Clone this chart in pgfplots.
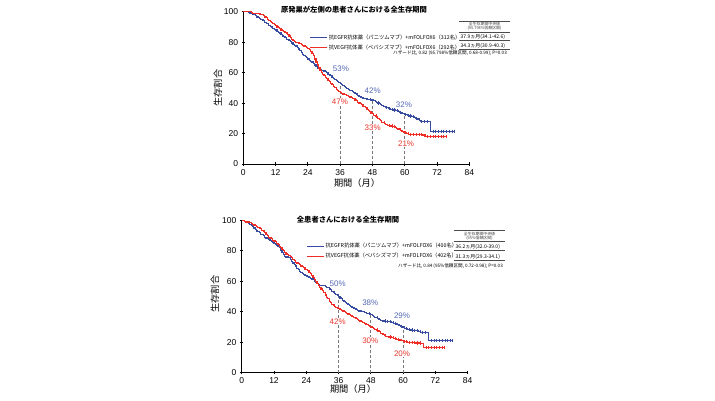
\documentclass[border=0pt]{standalone}
\usepackage{fontspec}
\setmainfont{Liberation Sans}
\newfontfamily\jp{Noto Sans CJK JP}
\usepackage{pgfplots}
\pgfplotsset{compat=1.18}
\definecolor{egfr}{RGB}{55,75,160}
\definecolor{vegf}{RGB}{238,45,38}
\definecolor{egfrlab}{RGB}{85,105,185}
\definecolor{vegflab}{RGB}{230,55,45}
\definecolor{dashgray}{RGB}{120,120,120}

\pgfplotsset{kmaxis/.style={
  scale only axis, width=226pt, height=152.3pt,
  xmin=0, xmax=84, ymin=0, ymax=100,
  axis lines*=left, axis line style={-, line width=0.9pt},
  xtick={0,12,...,84}, ytick={0,20,...,100},
  tick align=center, major tick length=3.5pt, tick style={black, line width=0.8pt},
  ticklabel style={font=\fontsize{8.5}{10}\selectfont},
  /pgf/number format/assume math mode=true,
  clip=false,
  legend cell align=left,
  legend style={draw=none, fill=none, inner sep=0pt, font=\jp\fontsize{5.3}{6}\selectfont,
    row sep=2pt, anchor=north west, nodes={inner sep=1pt}},
  legend image code/.code={\draw[#1, line width=1.2pt] (0pt,0pt) -- (17pt,0pt);},
},
km/.style={const plot, line width=1.2pt, mark=none},
cens/.style={only marks, mark=|, mark size=1.6pt, mark options={line width=0.6pt}, forget plot},
dsh/.style={dashgray, line width=0.7pt, dash pattern=on 3pt off 2pt, forget plot},
}
\tikzset{pct/.style={font=\fontsize{8}{9}\selectfont, fill=white, inner sep=0.6pt}}

\begin{document}
\begin{tikzpicture}
% ---------------- top panel ----------------
\begin{axis}[kmaxis, at={(243.3pt,236pt)}, anchor=south west,
  legend style={at={(axis cs:24.6,85.6)}}]
\addplot[dsh] coordinates {(36,0) (36,53)};
\addplot[dsh] coordinates {(48,0) (48,42)};
\addplot[dsh] coordinates {(60,0) (60,32.5)};
\node[pct, text=egfrlab] at (axis cs:36.3,62.8) {53\%};
\node[pct, text=egfrlab] at (axis cs:48.1,48.1) {42\%};
\node[pct, text=egfrlab] at (axis cs:59.7,38.7) {32\%};
\node[pct, text=vegflab] at (axis cs:35.9,40.9) {47\%};
\node[pct, text=vegflab] at (axis cs:48.1,23.8) {33\%};
\node[pct, text=vegflab] at (axis cs:60.5,13.6) {21\%};
\addplot[km, egfr] coordinates {
(0,100) (0.5,100) (1,100) (1.5,100) (2,99.5) (2.5,99) (3,99) (3.5,98.5) (4,98) (4.5,97.5)
(5,96.5) (5.5,96) (6,95.5) (6.5,95) (7,94.5) (7.5,94) (8,93) (8.5,92.5) (9,92) (9.5,91)
(10,90.5) (10.5,90) (11,89) (11.5,88.5) (12,88) (12.5,87) (13,86.5) (13.5,86) (14,85) (14.5,84)
(15,83.5) (15.5,83) (16,82) (16.5,81.5) (17,81) (17.5,80.5) (18,79.5) (18.5,78.5) (19,78) (19.5,77.5)
(20,76.5) (20.5,75.5) (21,74.5) (21.5,73) (22,72) (22.5,71) (23,70.5) (23.5,70) (24,69) (24.5,68)
(25,67.5) (25.5,67) (26,66) (26.5,65) (27,64) (27.5,63) (28,62.5) (28.5,62) (29,61.5) (29.5,61.5)
(30,61) (30.5,60.5) (31,60) (31.5,59) (32,58.5) (32.5,58) (33,57) (33.5,56) (34,55.5) (34.5,55)
(35,54) (35.5,53.5) (36,53) (36.5,52) (37,51.5) (37.5,51) (38,50) (38.5,49.5) (39,49) (39.5,48.5)
(40,48) (40.5,47.5) (41,47) (41.5,46.5) (42,46) (42.5,45) (43,44.5) (43.5,44) (44,43.5) (44.5,43)
(45,43) (45.5,43) (46,42.5) (46.5,42.5) (47,42.5) (47.5,42) (48,42) (48.5,41.5) (49,41) (49.5,40.5)
(50,40) (50.5,39.5) (51,39) (51.5,38.5) (52,38) (52.5,37.5) (53,37) (53.5,37) (54,36.5) (54.5,36)
(55,36) (55.5,36) (56,35.5) (56.5,35) (57,35) (57.5,34.5) (58,34) (58.5,33.5) (59,33) (59.5,33)
(60,32.5) (60.5,32.5) (61,32) (61.5,31.5) (62,31.5) (62.5,31) (63,31) (63.5,30.5) (64,30) (64.5,29.5)
(65,29) (65.5,28.5) (66,28) (66.5,28) (67,28) (67.5,28) (68,28) (68.5,28) (69,28) (69.5,21.5) (78.7,21.5)};
\addlegendentry{抗EGFR抗体薬（パニツムマブ）+mFOLFOX6（312名）}
\addplot[km, vegf] coordinates {
(0,100) (0.5,100) (1,100) (1.5,100) (2,100) (2.5,100) (3,99.5) (3.5,99) (4,99) (4.5,99)
(5,99) (5.5,99) (6,98.5) (6.5,98) (7,98) (7.5,97.5) (8,96.5) (8.5,96) (9,95) (9.5,94)
(10,93.5) (10.5,93) (11,92) (11.5,91.5) (12,91) (12.5,90) (13,89.5) (13.5,89) (14,88) (14.5,87.5)
(15,87) (15.5,86.5) (16,86) (16.5,85) (17,84) (17.5,83) (18,81.5) (18.5,81) (19,80.5) (19.5,80)
(20,80) (20.5,79.5) (21,79) (21.5,78.5) (22,78) (22.5,77.5) (23,77) (23.5,76.5) (24,76) (24.5,75)
(25,74) (25.5,72.5) (26,71) (26.5,69) (27,67) (27.5,65) (28,63) (28.5,61.5) (29,60) (29.5,59)
(30,58) (30.5,57) (31,56) (31.5,55) (32,54) (32.5,53) (33,52) (33.5,51) (34,50) (34.5,49)
(35,48.5) (35.5,47.5) (36,47) (36.5,46.5) (37,46) (37.5,45.5) (38,45.5) (38.5,45) (39,44.5) (39.5,44)
(40,43.5) (40.5,43) (41,43) (41.5,42) (42,41.5) (42.5,40.5) (43,40) (43.5,39.5) (44,39) (44.5,38)
(45,37.5) (45.5,37) (46,36) (46.5,35) (47,34.5) (47.5,33.5) (48,33) (48.5,32) (49,31.5) (49.5,31)
(50,30) (50.5,29) (51,28.5) (51.5,27.5) (52,27) (52.5,26.5) (53,26) (53.5,25.5) (54,25.5) (54.5,25)
(55,25) (55.5,24.5) (56,24.5) (56.5,24) (57,23.5) (57.5,23) (58,22.5) (58.5,22) (59,21.5) (59.5,21)
(60,20.5) (60.5,20) (61,20) (61.5,19.5) (62,19.5) (62.5,19.5) (63,19.5) (63.5,19.5) (64,19.5) (64.5,19.5)
(65,19.5) (65.5,19.5) (66,19.5) (66.5,19) (67,19) (67.5,18) (75.5,18)};
\addlegendentry{抗VEGF抗体薬（ベバシズマブ）+mFOLFOX6（292名）}
\addplot[cens, egfr] coordinates {
(47.25,42.5) (50.25,40) (53.25,37) (54.25,36.5) (55.25,36) (56.25,35.5) (57.25,35) (58.25,34)
(60.25,32.5) (61.25,32) (62.25,31.5) (63.25,31) (64.25,30) (65.25,29) (66.25,28) (67.25,28) (68.25,28)
(70.5,21.5) (71.5,21.5) (72.5,21.5) (73.5,21.5) (74.5,21.5) (75.5,21.5) (76.5,21.5) (77.5,21.5) (78.5,21.5)};
\addplot[cens, vegf] coordinates {
(49.25,31.5) (52.25,27) (54.25,25.5) (55.25,25) (56.25,24.5) (58.25,22.5) (60.25,20.5) (61.25,20)
(62.25,19.5) (63.25,19.5) (64.25,19.5) (65.25,19.5) (66.25,19.5)
(68.5,18) (69.5,18) (70.5,18) (71.5,18) (72.5,18) (73.5,18) (74.5,18) (75.3,18)};
\end{axis}

% ---------------- bottom panel ----------------
\begin{axis}[kmaxis, at={(241.7pt,27.3pt)}, anchor=south west,
  legend style={at={(axis cs:24.0,85.8)}}]
\addplot[dsh] coordinates {(36,0) (36,50)};
\addplot[dsh] coordinates {(48,0) (48,38)};
\addplot[dsh] coordinates {(60,0) (60,29.5)};
\node[pct, text=egfrlab] at (axis cs:35.7,58.5) {50\%};
\node[pct, text=egfrlab] at (axis cs:47.8,45.7) {38\%};
\node[pct, text=egfrlab] at (axis cs:59.6,37.6) {29\%};
\node[pct, text=vegflab] at (axis cs:35.7,33.6) {42\%};
\node[pct, text=vegflab] at (axis cs:47.8,20.9) {30\%};
\node[pct, text=vegflab] at (axis cs:59.6,12.7) {20\%};
\addplot[km, egfr] coordinates {
(0,100) (0.5,100) (1,99.5) (1.5,99) (2,98.5) (2.5,98) (3,97.5) (3.5,97) (4,96) (4.5,95)
(5,94) (5.5,93) (6,92.5) (6.5,92) (7,91) (7.5,90.5) (8,90) (8.5,89) (9,88.5) (9.5,88)
(10,87.5) (10.5,87) (11,86.5) (11.5,85.5) (12,85) (12.5,84) (13,83.5) (13.5,83) (14,82) (14.5,80.5)
(15,79) (15.5,77.5) (16,76.5) (16.5,76) (17,76) (17.5,75.5) (18,74.5) (18.5,73) (19,72) (19.5,71)
(20,70) (20.5,68.5) (21,67.5) (21.5,66.5) (22,66) (22.5,65) (23,64.5) (23.5,64) (24,63.5) (24.5,63)
(25,62.5) (25.5,62) (26,61.5) (26.5,61) (27,60) (27.5,59) (28,58.5) (28.5,58) (29,57.5) (29.5,57)
(30,57) (30.5,57) (31,56.5) (31.5,56) (32,56) (32.5,55) (33,54.5) (33.5,53.5) (34,53) (34.5,52)
(35,51.5) (35.5,51) (36,50) (36.5,49) (37,48.5) (37.5,47.5) (38,47) (38.5,46) (39,45.5) (39.5,45)
(40,44) (40.5,43.5) (41,43) (41.5,42.5) (42,42) (42.5,41.5) (43,41) (43.5,40.5) (44,40.5) (44.5,40)
(45,40) (45.5,39.5) (46,39.5) (46.5,39) (47,39) (47.5,38.5) (48,38) (48.5,37.5) (49,37) (49.5,36.5)
(50,36) (50.5,35.5) (51,35) (51.5,34.5) (52,34.5) (52.5,34) (53,34) (53.5,33.5) (54,33.5) (54.5,33.5)
(55,33.5) (55.5,33) (56,33) (56.5,32.5) (57,32.5) (57.5,32) (58,31.5) (58.5,31) (59,30.5) (59.5,30)
(60,29.5) (60.5,29) (61,29) (61.5,28.5) (62,28.5) (62.5,28) (63,28) (63.5,27.5) (64,27.5) (64.5,27.5)
(65,27.5) (65.5,27) (66,27) (66.5,26.5) (67,26.5) (67.5,26.5) (68,26.5) (68.5,26.5) (69,26.5) (69.5,21) (78.5,21)};
\addlegendentry{抗EGFR抗体薬（パニツムマブ）+mFOLFOX6（400名）}
\addplot[km, vegf] coordinates {
(0,100) (0.5,100) (1,99.5) (1.5,99) (2,99) (2.5,99) (3,98.5) (3.5,98) (4,97.5) (4.5,97)
(5,96.5) (5.5,96) (6,95.5) (6.5,95) (7,94.5) (7.5,93.5) (8,93) (8.5,92) (9,91) (9.5,90)
(10,89) (10.5,88.5) (11,88) (11.5,87) (12,86.5) (12.5,86) (13,85) (13.5,84) (14,83) (14.5,82)
(15,81) (15.5,80) (16,79) (16.5,78) (17,77.5) (17.5,77) (18,76.5) (18.5,75.5) (19,74.5) (19.5,73.5)
(20,72.5) (20.5,72) (21,71.5) (21.5,71) (22,70) (22.5,69.5) (23,69) (23.5,68) (24,67.5) (24.5,67)
(25,66) (25.5,65) (26,64) (26.5,62.5) (27,61) (27.5,60) (28,58.5) (28.5,57) (29,56) (29.5,55)
(30,54) (30.5,52.5) (31,51) (31.5,49.5) (32,48.5) (32.5,47) (33,46) (33.5,45) (34,44.5) (34.5,43.5)
(35,43) (35.5,42.5) (36,42) (36.5,41.5) (37,41) (37.5,40.5) (38,40) (38.5,39.5) (39,39) (39.5,38.5)
(40,38) (40.5,37.5) (41,37) (41.5,36.5) (42,36) (42.5,35.5) (43,35) (43.5,34.5) (44,34) (44.5,33.5)
(45,33) (45.5,32.5) (46,32) (46.5,31.5) (47,31) (47.5,30.5) (48,30) (48.5,29.5) (49,29) (49.5,28.5)
(50,28) (50.5,27.5) (51,27) (51.5,26) (52,25.5) (52.5,25) (53,24.5) (53.5,24) (54,24) (54.5,23.5)
(55,23.5) (55.5,23) (56,23) (56.5,22.5) (57,22.5) (57.5,22) (58,22) (58.5,21.5) (59,21.5) (59.5,21)
(60,20.5) (60.5,20.5) (61,20.5) (61.5,20) (62,20) (62.5,20) (63,20) (63.5,20) (64,20) (64.5,19.5)
(65,19.5) (65.5,19.5) (66,19.5) (66.5,19) (67,19) (67.5,16.5) (75.5,16.5)};
\addlegendentry{抗VEGF抗体薬（ベバシズマブ）+mFOLFOX6（402名）}
\addplot[cens, egfr] coordinates {
(47.25,39) (50.25,36) (53.25,34) (54.25,33.5) (55.25,33.5) (56.25,33) (57.25,32.5) (59.25,30.5)
(60.25,29.5) (61.25,29) (62.25,28.5) (63.25,28) (64.25,27.5) (65.25,27.5) (66.25,27) (67.25,26.5) (68.25,26.5)
(70.5,21) (71.5,21) (72.5,21) (73.5,21) (74.5,21) (75.5,21) (76.5,21) (77.5,21) (78.3,21)};
\addplot[cens, vegf] coordinates {
(50.25,28) (53.25,24.5) (55.25,23.5) (56.25,23) (57.25,22.5) (58.25,22) (60.25,20.5) (61.25,20.5)
(62.25,20) (63.25,20) (64.25,20) (65.25,19.5) (66.25,19.5)
(68.5,16.5) (69.5,16.5) (70.5,16.5) (71.5,16.5) (72.5,16.5) (73.5,16.5) (74.5,16.5) (75.3,16.5)};
\end{axis}

% ---------------- texts ----------------
\tikzset{ttl/.style={font=\jp\bfseries\fontsize{7.3}{8}\selectfont},
  axl/.style={font=\jp\fontsize{9.2}{10}\selectfont},
  tbl/.style={font=\jp\fontsize{5}{6}\selectfont, anchor=west, inner sep=0pt},
  hdr/.style={font=\jp\fontsize{3.9}{4.3}\selectfont, align=center, inner sep=0pt, text=black!75},
  hz/.style={font=\jp\fontsize{4.6}{5}\selectfont, anchor=east, inner sep=0pt},
  rl/.style={line width=0.5pt, black!70}}
% top
\node[ttl] at (354pt,390pt) {原発巣が左側の患者さんにおける全生存期間};
\node[axl, rotate=90] at (218pt,312pt) {生存割合};
\node[axl] at (357pt,217pt) {期間（月）};
\draw[rl] (459pt,379pt) -- (510pt,379pt);
\node[hdr] at (484.5pt,373.7pt) {全生存期間中央値\\(95.798\%信頼区間)};
\draw[rl] (459pt,367.3pt) -- (510pt,367.3pt);
\node[tbl] at (460.5pt,363.3pt) {37.9ヵ月(34.1-42.6)};
\draw[rl] (459pt,360pt) -- (510pt,360pt);
\node[tbl] at (460.5pt,354pt) {34.3ヵ月(30.9-40.3)};
\draw[rl] (459pt,350.7pt) -- (510pt,350.7pt);
\node[hz] at (507pt,346.5pt) {ハザード比, 0.82 (95.798\%信頼区間, 0.68-0.99); \textit{P}=0.03};
% bottom
\node[ttl] at (348pt,180pt) {全患者さんにおける全生存期間};
\node[axl, rotate=90] at (215pt,106pt) {生存割合};
\node[axl] at (353pt,11pt) {期間（月）};
\draw[rl] (454pt,170pt) -- (505pt,170pt);
\node[hdr] at (479.5pt,164pt) {全生存期間中央値\\(95\%信頼区間)};
\draw[rl] (454pt,158.3pt) -- (505pt,158.3pt);
\node[tbl] at (455.5pt,152.7pt) {36.2ヵ月(32.0-39.0)};
\draw[rl] (454pt,149.3pt) -- (505pt,149.3pt);
\node[tbl] at (455.5pt,143.3pt) {31.3ヵ月(29.3-34.1)};
\draw[rl] (454pt,140pt) -- (505pt,140pt);
\node[hz] at (503pt,134pt) {ハザード比, 0.84 (95\%信頼区間, 0.72-0.98); \textit{P}=0.03};
\pgfresetboundingbox
\path (0pt,0pt) rectangle (715pt,400pt);
\end{tikzpicture}
\end{document}
